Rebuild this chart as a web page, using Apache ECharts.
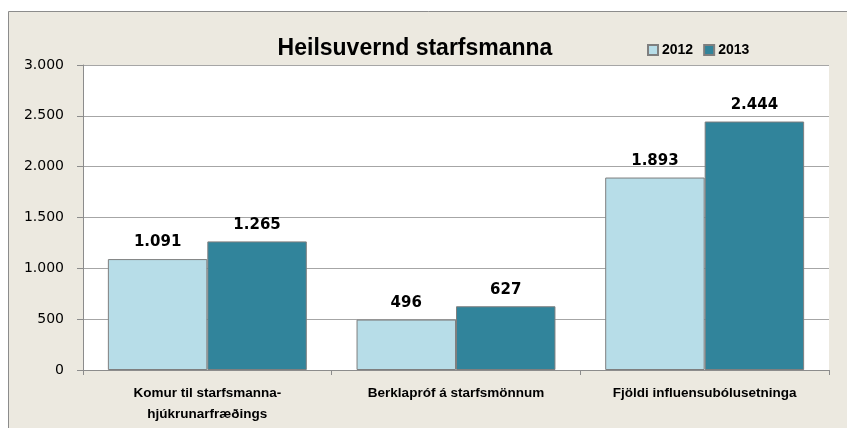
<!DOCTYPE html>
<html>
<head>
<meta charset="utf-8">
<script src="https://cdn.jsdelivr.net/npm/echarts@6/dist/echarts.min.js"></script>
<style>
  html, body { margin: 0; padding: 0; background: #ffffff; }
  #chart { width: 847px; height: 428px; }
</style>
</head>
<body>
<div id="chart"></div>
<script>
// Occupational health services: visits, TB tests and flu vaccinations
const categories = ['Komur til starfsmanna-\nhjúkrunarfræðings', 'Berklapróf á starfsmönnum', 'Fjöldi influensubólusetninga'];
const seriesNames = ['2012', '2013'];
const values2012 = [1091, 496, 1893];
const values2013 = [1265, 627, 2444];
const yTicks = { min: 0, max: 3000, interval: 500 };

// Icelandic style: dot as thousands separator
function fmt(v) {
  return String(Math.round(v)).replace(/\B(?=(\d{3})+(?!\d))/g, '.');
}

const chart = echarts.init(document.getElementById('chart'), null, { renderer: 'canvas' });

const barLabel = {
  show: true,
  position: 'top',
  distance: 9,
  fontFamily: 'DejaVu Sans',
  fontWeight: 'bold',
  fontSize: 15,
  color: '#000',
  formatter: p => fmt(p.value)
};

chart.setOption({
  backgroundColor: '#ffffff',
  animation: false,
  graphic: [{
    type: 'rect',
    z: -10,
    shape: { x: 8.5, y: 11.5, width: 900, height: 500 },
    style: { fill: '#ECE9E0', stroke: '#8C8C8C', lineWidth: 1 }
  }],
  title: {
    text: 'Heilsuvernd starfsmanna',
    left: 410,
    textAlign: 'center',
    top: 32,
    textStyle: {
      fontFamily: 'Liberation Sans, sans-serif',
      fontWeight: 'bold',
      fontSize: 23,
      color: '#000'
    }
  },
  legend: {
    data: seriesNames,
    left: 647,
    top: 43,
    padding: 0,
    itemWidth: 10,
    itemHeight: 10,
    itemGap: 10,
    icon: 'rect',
    textStyle: {
      fontFamily: 'Liberation Sans, sans-serif',
      fontWeight: 'bold',
      fontSize: 14,
      color: '#000',
      padding: [0, 0, 0, -1]
    }
  },
  grid: {
    left: 83,
    right: 18,
    top: 65,
    bottom: 58,
    show: true,
    backgroundColor: '#ffffff',
    borderWidth: 0
  },
  xAxis: {
    type: 'category',
    data: categories,
    axisLine: { lineStyle: { color: '#8C8C8C', width: 1 } },
    axisTick: { show: true, alignWithLabel: false, length: 5, lineStyle: { color: '#8C8C8C' } },
    axisLabel: {
      interval: 0,
      margin: 13,
      fontFamily: 'Liberation Sans, sans-serif',
      fontWeight: 'bold',
      fontSize: 13.5,
      lineHeight: 21,
      color: '#000'
    }
  },
  yAxis: {
    type: 'value',
    min: yTicks.min,
    max: yTicks.max,
    interval: yTicks.interval,
    axisLine: { show: true, lineStyle: { color: '#8C8C8C', width: 1 } },
    axisTick: { show: true, length: 6, lineStyle: { color: '#8C8C8C' } },
    splitLine: { show: true, lineStyle: { color: '#A6A6A6', width: 1 } },
    axisLabel: {
      margin: 19,
      fontFamily: 'DejaVu Sans',
      fontSize: 14,
      color: '#000',
      formatter: v => fmt(v)
    }
  },
  series: [
    {
      name: seriesNames[0],
      type: 'bar',
      data: values2012,
      barGap: '0%',
      barCategoryGap: '20%',
      itemStyle: { color: '#B7DDE8', borderColor: '#7F7F7F', borderWidth: 1 },
      label: barLabel
    },
    {
      name: seriesNames[1],
      type: 'bar',
      data: values2013,
      barGap: '0%',
      barCategoryGap: '20%',
      itemStyle: { color: '#31849B', borderColor: '#7F7F7F', borderWidth: 1 },
      label: barLabel
    }
  ]
});
</script>
</body>
</html>
